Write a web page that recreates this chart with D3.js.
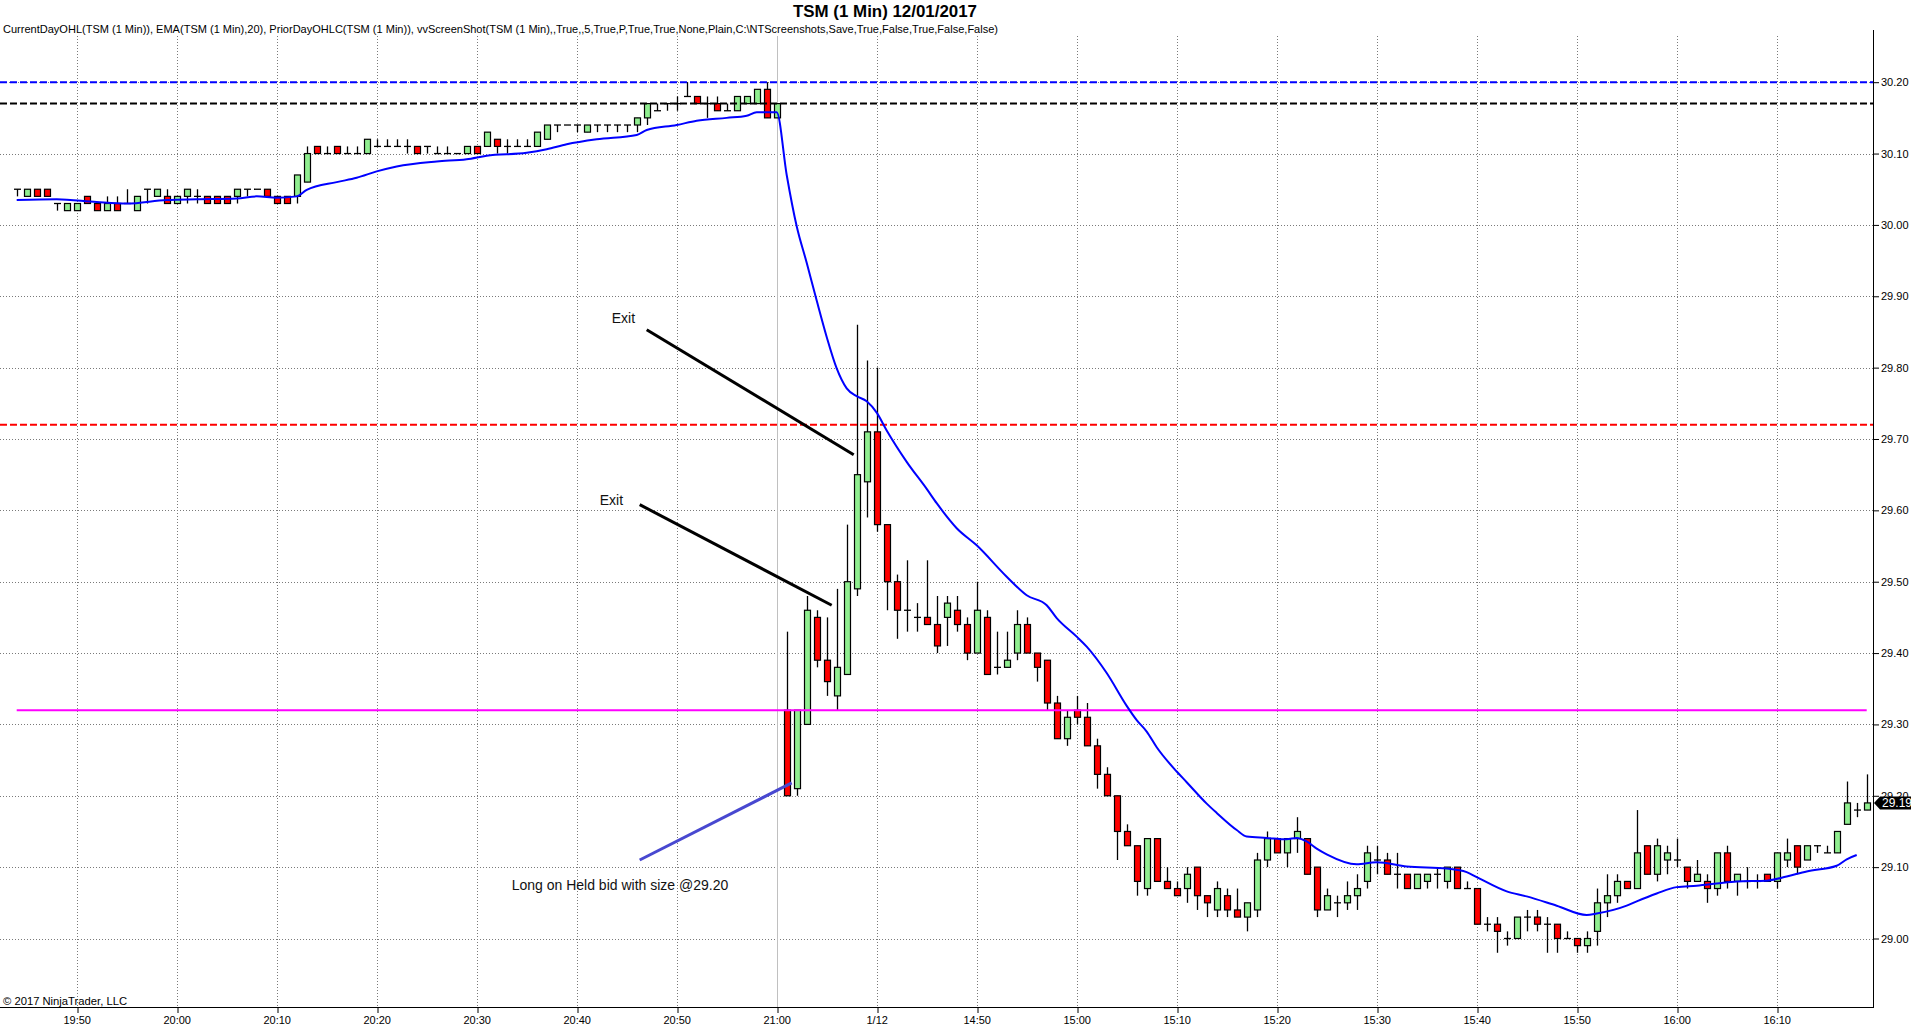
<!DOCTYPE html>
<html>
<head>
<meta charset="utf-8">
<script src="https://cdn.jsdelivr.net/npm/d3@7"></script>
<style>
  html, body { margin: 0; padding: 0; background: #fff; }
  svg { display: block; font-family: "Liberation Sans", Arial, sans-serif; }
</style>
</head>
<body>
<div id="chart"></div>
<script>
// TSM 1 minute bars, prior session 19:44-21:00 then 1/12 session from 14:31
const opens = [
  30.05, 30.04, 30.05, 30.05, 30.03, 30.02, 30.02, 30.04, 30.03, 30.02,
  30.03, 30.03, 30.02, 30.05, 30.04, 30.04, 30.03, 30.04, 30.04, 30.04,
  30.04, 30.04, 30.04, 30.05, 30.05, 30.05, 30.04, 30.04, 30.04, 30.06,
  30.11, 30.10, 30.11, 30.10, 30.10, 30.10, 30.11, 30.11, 30.11, 30.11,
  30.11, 30.11, 30.10, 30.10, 30.10, 30.10, 30.11, 30.11, 30.12, 30.11,
  30.11, 30.11, 30.11, 30.12, 30.14, 30.14, 30.14, 30.13, 30.14, 30.14,
  30.14, 30.14, 30.14, 30.15, 30.16, 30.17, 30.17, 30.18, 30.18, 30.17,
  30.17, 30.16, 30.16, 30.17, 30.17, 30.19, 30.15,
  29.32, 29.21, 29.30,
  29.45, 29.39, 29.34, 29.37, 29.49, 29.64, 29.71, 29.58, 29.50, 29.46,
  29.45, 29.45, 29.44, 29.45, 29.46, 29.44, 29.40, 29.45, 29.38, 29.38,
  29.40, 29.44, 29.40, 29.39, 29.33, 29.28, 29.32, 29.31, 29.27, 29.23,
  29.20, 29.15, 29.13, 29.07, 29.14, 29.08, 29.07, 29.07, 29.10, 29.06,
  29.04, 29.06, 29.04, 29.03, 29.04, 29.11, 29.14, 29.12, 29.14, 29.14,
  29.10, 29.04, 29.05, 29.05, 29.06, 29.08, 29.11, 29.11, 29.09, 29.09,
  29.07, 29.08, 29.09, 29.08, 29.10, 29.07, 29.07, 29.02, 29.02, 29.00,
  29.00, 29.03, 29.03, 29.02, 29.02, 29.00, 29.00, 28.99, 29.01, 29.05,
  29.06, 29.08, 29.07, 29.13, 29.09, 29.11, 29.11, 29.10, 29.08, 29.08,
  29.07, 29.12, 29.08, 29.08, 29.08, 29.09, 29.08, 29.11, 29.13, 29.11,
  29.13, 29.12, 29.12, 29.16, 29.18, 29.18
];
const highs = [
  30.05, 30.05, 30.05, 30.05, 30.03, 30.03, 30.03, 30.04, 30.03, 30.04,
  30.04, 30.05, 30.04, 30.05, 30.05, 30.05, 30.04, 30.05, 30.05, 30.04,
  30.04, 30.04, 30.05, 30.05, 30.05, 30.05, 30.04, 30.04, 30.07, 30.11,
  30.11, 30.11, 30.11, 30.11, 30.11, 30.12, 30.12, 30.12, 30.12, 30.12,
  30.11, 30.11, 30.11, 30.11, 30.10, 30.11, 30.11, 30.13, 30.12, 30.12,
  30.12, 30.12, 30.13, 30.14, 30.14, 30.14, 30.14, 30.14, 30.14, 30.14,
  30.14, 30.14, 30.15, 30.17, 30.17, 30.17, 30.18, 30.20, 30.18, 30.18,
  30.18, 30.17, 30.18, 30.18, 30.19, 30.20, 30.17,
  29.43, 29.32, 29.48,
  29.46, 29.45, 29.49, 29.58, 29.86, 29.81, 29.80, 29.58, 29.51, 29.53,
  29.47, 29.53, 29.48, 29.48, 29.48, 29.45, 29.50, 29.46, 29.43, 29.43,
  29.46, 29.45, 29.40, 29.39, 29.34, 29.32, 29.34, 29.33, 29.28, 29.24,
  29.20, 29.16, 29.13, 29.14, 29.14, 29.10, 29.08, 29.10, 29.10, 29.06,
  29.08, 29.07, 29.07, 29.05, 29.12, 29.15, 29.14, 29.14, 29.17, 29.14,
  29.10, 29.07, 29.06, 29.08, 29.09, 29.13, 29.13, 29.12, 29.12, 29.09,
  29.09, 29.09, 29.10, 29.10, 29.10, 29.08, 29.07, 29.03, 29.03, 29.01,
  29.03, 29.04, 29.04, 29.03, 29.02, 29.01, 29.00, 29.01, 29.07, 29.09,
  29.09, 29.08, 29.18, 29.13, 29.14, 29.13, 29.14, 29.10, 29.11, 29.09,
  29.12, 29.13, 29.09, 29.10, 29.09, 29.09, 29.12, 29.14, 29.13, 29.13,
  29.13, 29.13, 29.15, 29.22, 29.19, 29.23
];
const lows = [
  30.04, 30.04, 30.04, 30.04, 30.02, 30.02, 30.02, 30.03, 30.02, 30.02,
  30.02, 30.03, 30.02, 30.03, 30.04, 30.03, 30.03, 30.03, 30.03, 30.03,
  30.03, 30.03, 30.03, 30.04, 30.05, 30.04, 30.03, 30.03, 30.03, 30.06,
  30.10, 30.10, 30.10, 30.10, 30.10, 30.10, 30.11, 30.11, 30.11, 30.10,
  30.10, 30.10, 30.10, 30.10, 30.10, 30.10, 30.10, 30.11, 30.10, 30.10,
  30.11, 30.11, 30.11, 30.12, 30.13, 30.14, 30.13, 30.13, 30.13, 30.13,
  30.13, 30.13, 30.13, 30.14, 30.16, 30.16, 30.16, 30.18, 30.17, 30.15,
  30.16, 30.16, 30.16, 30.17, 30.17, 30.15, 30.15,
  29.20, 29.20, 29.30,
  29.38, 29.34, 29.32, 29.37, 29.48, 29.59, 29.57, 29.46, 29.42, 29.43,
  29.43, 29.44, 29.40, 29.41, 29.43, 29.39, 29.40, 29.37, 29.37, 29.38,
  29.39, 29.40, 29.36, 29.32, 29.28, 29.27, 29.30, 29.27, 29.21, 29.20,
  29.11, 29.13, 29.06, 29.06, 29.08, 29.07, 29.06, 29.05, 29.04, 29.03,
  29.03, 29.03, 29.03, 29.01, 29.03, 29.10, 29.12, 29.10, 29.12, 29.09,
  29.03, 29.04, 29.03, 29.04, 29.04, 29.07, 29.09, 29.09, 29.07, 29.07,
  29.07, 29.07, 29.07, 29.07, 29.07, 29.07, 29.02, 29.01, 28.98, 28.99,
  29.00, 29.01, 29.01, 28.98, 28.98, 29.00, 28.98, 28.98, 28.99, 29.03,
  29.05, 29.07, 29.07, 29.09, 29.08, 29.09, 29.10, 29.07, 29.08, 29.05,
  29.06, 29.07, 29.06, 29.07, 29.07, 29.08, 29.07, 29.10, 29.09, 29.11,
  29.12, 29.12, 29.12, 29.16, 29.17, 29.18
];
const closes = [
  30.05, 30.05, 30.04, 30.04, 30.03, 30.03, 30.03, 30.03, 30.02, 30.03,
  30.02, 30.03, 30.04, 30.05, 30.05, 30.03, 30.04, 30.05, 30.04, 30.03,
  30.03, 30.03, 30.05, 30.05, 30.05, 30.04, 30.03, 30.03, 30.07, 30.10,
  30.10, 30.10, 30.10, 30.10, 30.10, 30.12, 30.11, 30.11, 30.11, 30.11,
  30.10, 30.11, 30.10, 30.10, 30.10, 30.11, 30.10, 30.13, 30.11, 30.11,
  30.11, 30.11, 30.13, 30.14, 30.14, 30.14, 30.14, 30.14, 30.14, 30.14,
  30.14, 30.14, 30.15, 30.17, 30.16, 30.17, 30.17, 30.18, 30.17, 30.17,
  30.16, 30.16, 30.18, 30.18, 30.19, 30.15, 30.17,
  29.20, 29.32, 29.46,
  29.39, 29.36, 29.38, 29.50, 29.65, 29.71, 29.58, 29.50, 29.46, 29.46,
  29.45, 29.44, 29.41, 29.47, 29.44, 29.40, 29.46, 29.37, 29.38, 29.39,
  29.44, 29.40, 29.38, 29.33, 29.28, 29.31, 29.31, 29.27, 29.23, 29.20,
  29.15, 29.13, 29.08, 29.14, 29.08, 29.07, 29.06, 29.09, 29.06, 29.05,
  29.07, 29.04, 29.03, 29.05, 29.11, 29.14, 29.12, 29.14, 29.15, 29.09,
  29.04, 29.06, 29.05, 29.06, 29.07, 29.12, 29.11, 29.09, 29.09, 29.07,
  29.09, 29.09, 29.09, 29.10, 29.07, 29.07, 29.02, 29.02, 29.01, 29.00,
  29.03, 29.03, 29.02, 29.02, 29.00, 29.00, 28.99, 29.00, 29.05, 29.06,
  29.08, 29.07, 29.12, 29.09, 29.13, 29.12, 29.11, 29.08, 29.09, 29.07,
  29.12, 29.08, 29.09, 29.08, 29.08, 29.08, 29.12, 29.12, 29.10, 29.13,
  29.13, 29.12, 29.15, 29.19, 29.18, 29.19
];

// EMA(20): bar index and value
const emaIdx = [0, 4, 8, 11, 15, 18, 22, 24, 26, 28, 29, 32, 34, 36, 38, 42, 45, 47, 51, 53,
  55, 58, 62, 63, 66, 68, 71, 73, 74, 76, 77, 78, 79, 80, 81, 82, 83, 84, 85, 86,
  87, 89, 91, 92, 94, 96, 99, 101, 103, 104, 106, 107, 109, 111, 112, 113, 114, 116, 117, 119,
  120, 122, 123, 125, 127, 128, 129, 130, 131, 134, 136, 139, 143, 145, 146, 149, 151, 154, 157, 158,
  161, 162, 164, 166, 168, 170, 172, 175, 177, 179, 182, 183, 184];
const emaVal = [30.035, 30.036, 30.032, 30.030, 30.035, 30.036, 30.037, 30.040, 30.038, 30.040,
  30.049, 30.060, 30.066, 30.075, 30.082, 30.089, 30.092, 30.097, 30.101, 30.106,
  30.113, 30.120, 30.126, 30.133, 30.140, 30.146, 30.150, 30.153, 30.158, 30.158,
  30.070, 29.998, 29.947, 29.894, 29.843, 29.799, 29.771, 29.760, 29.753, 29.737,
  29.712, 29.668, 29.630, 29.610, 29.575, 29.551, 29.507, 29.481, 29.467, 29.449,
  29.423, 29.409, 29.372, 29.326, 29.306, 29.290, 29.268, 29.234, 29.219, 29.189,
  29.176, 29.152, 29.143, 29.141, 29.139, 29.141, 29.136, 29.126, 29.118, 29.104,
  29.107, 29.101, 29.098, 29.093, 29.086, 29.066, 29.059, 29.046, 29.033, 29.035,
  29.046, 29.052, 29.063, 29.072, 29.074, 29.077, 29.080, 29.081, 29.087, 29.094,
  29.102, 29.111, 29.117];

// x axis labels and the bar index they sit on
const timeLabels = ["19:50", "20:00", "20:10", "20:20", "20:30", "20:40", "20:50", "21:00", "1/12",
  "14:50", "15:00", "15:10", "15:20", "15:30", "15:40", "15:50", "16:00", "16:10"];
const timeIdx = [6, 16, 26, 36, 46, 56, 66, 76, 86, 96, 106, 116, 126, 136, 146, 156, 166, 176];
const sessionBreakIdx = 76;

const priceTicks = [29.00, 29.10, 29.20, 29.30, 29.40, 29.50, 29.60, 29.70, 29.80, 29.90, 30.00, 30.10, 30.20];

// levels: prior day high, current day open, drawn levels
const priorHigh = 30.20;
const dayLevel = 30.17;
const exitLevel = 29.72;
const bidLevel = 29.32;

const titleText = "TSM (1 Min)  12/01/2017";
const indicatorText = "CurrentDayOHL(TSM (1 Min)), EMA(TSM (1 Min),20), PriorDayOHLC(TSM (1 Min)), vvScreenShot(TSM (1 Min),,True,,5,True,P,True,True,None,Plain,C:\\NTScreenshots,Save,True,False,True,False,False)";

const width = 1920, height = 1034;
const plotRight = 1873, plotTop = 36, plotBottom = 1007;

const svg = d3.select("#chart").append("svg")
  .attr("width", width).attr("height", height);

svg.append("rect").attr("width", width).attr("height", height).attr("fill", "#fff");

const x = d3.scaleLinear()
  .domain([0, opens.length - 1])
  .range([16.7, 1866.7]);

const y = d3.scaleLinear()
  .domain([29.00, 30.20])
  .range([938.5, 82.2]);

const px = v => Math.round(v) + 0.5;

// grid
const grid = svg.append("g");
grid.selectAll("line.h").data(priceTicks).enter().append("line")
  .attr("x1", 0).attr("x2", plotRight)
  .attr("y1", d => px(y(d))).attr("y2", d => px(y(d)))
  .attr("stroke", "#7a7a7a").attr("stroke-dasharray", "1,2");
grid.selectAll("line.v").data(timeIdx.filter(d => d !== sessionBreakIdx)).enter().append("line")
  .attr("x1", d => px(x(d))).attr("x2", d => px(x(d)))
  .attr("y1", plotTop).attr("y2", plotBottom)
  .attr("stroke", "#7a7a7a").attr("stroke-dasharray", "1,2");
grid.append("line")
  .attr("x1", px(x(sessionBreakIdx))).attr("x2", px(x(sessionBreakIdx)))
  .attr("y1", plotTop).attr("y2", plotBottom)
  .attr("stroke", "#c0c0c0");

// candles
const bars = d3.range(opens.length).map(i => ({
  i, o: opens[i], h: highs[i], l: lows[i], c: closes[i]
}));

const candles = svg.append("g");
candles.selectAll("line.wick").data(bars).enter().append("line")
  .attr("x1", d => px(x(d.i))).attr("x2", d => px(x(d.i)))
  .attr("y1", d => y(d.h)).attr("y2", d => y(d.l))
  .attr("stroke", "#000").attr("stroke-width", 1.3);

candles.selectAll("rect").data(bars.filter(d => d.o !== d.c)).enter().append("rect")
  .attr("x", d => Math.round(x(d.i)) - 2.5)
  .attr("width", 6)
  .attr("y", d => y(Math.max(d.o, d.c)))
  .attr("height", d => y(Math.min(d.o, d.c)) - y(Math.max(d.o, d.c)))
  .attr("fill", d => d.c > d.o ? "#90ee90" : "#ff0000")
  .attr("stroke", "#000").attr("stroke-width", 1.2);

candles.selectAll("line.doji").data(bars.filter(d => d.o === d.c)).enter().append("line")
  .attr("x1", d => Math.round(x(d.i)) - 3).attr("x2", d => Math.round(x(d.i)) + 4)
  .attr("y1", d => y(d.o)).attr("y2", d => y(d.o))
  .attr("stroke", "#000").attr("stroke-width", 1.3);

// level lines
const levels = svg.append("g");
[[priorHigh, "#0000ff"], [dayLevel, "#000000"], [exitLevel, "#ff0000"]].forEach(([v, col]) => {
  levels.append("line")
    .attr("x1", 0).attr("x2", plotRight)
    .attr("y1", y(v)).attr("y2", y(v))
    .attr("stroke", col).attr("stroke-width", 2).attr("stroke-dasharray", "7,3");
});
levels.append("line")
  .attr("x1", x(0)).attr("x2", x(opens.length - 1))
  .attr("y1", y(bidLevel)).attr("y2", y(bidLevel))
  .attr("stroke", "#ff00ff").attr("stroke-width", 2);

// EMA
const emaPts = emaIdx.map((d, k) => [d, emaVal[k]]);
svg.append("path")
  .datum(emaPts)
  .attr("fill", "none")
  .attr("stroke", "#0000ff")
  .attr("stroke-width", 2)
  .attr("d", d3.line().x(d => x(d[0])).y(d => y(d[1])).curve(d3.curveMonotoneX));

// annotations (bar index, price)
const notes = svg.append("g");
const segs = [
  { a: [63.0, 29.853], b: [83.7, 29.678], col: "#000" },
  { a: [62.3, 29.608], b: [81.5, 29.467], col: "#000" },
  { a: [62.3, 29.110], b: [77.5, 29.218], col: "#4848d0" }
];
notes.selectAll("line").data(segs).enter().append("line")
  .attr("x1", d => x(d.a[0])).attr("y1", d => y(d.a[1]))
  .attr("x2", d => x(d.b[0])).attr("y2", d => y(d.b[1]))
  .attr("stroke", d => d.col).attr("stroke-width", 3);

const labels = [
  { t: "Exit", at: [59.5, 29.862] },
  { t: "Exit", at: [58.3, 29.608] },
  { t: "Long on Held bid with size @29.20", at: [49.5, 29.068] }
];
notes.selectAll("text").data(labels).enter().append("text")
  .attr("x", d => x(d.at[0])).attr("y", d => y(d.at[1]))
  .attr("font-size", 14).attr("fill", "#111")
  .text(d => d.t);

// right price axis
const yAxis = svg.append("g")
  .attr("transform", `translate(${plotRight},0)`)
  .call(d3.axisRight(y).tickValues(priceTicks).tickSize(6).tickPadding(2).tickFormat(d3.format(".2f")));
yAxis.select(".domain").remove();
yAxis.selectAll("text").attr("font-size", 11).attr("font-family", "Liberation Sans, Arial, sans-serif").attr("fill", "#000");
svg.append("line")
  .attr("x1", plotRight + 0.5).attr("x2", plotRight + 0.5)
  .attr("y1", 30).attr("y2", plotBottom)
  .attr("stroke", "#000");

// bottom time axis
const xAxis = svg.append("g")
  .attr("transform", `translate(0,${plotBottom})`)
  .call(d3.axisBottom(x).tickValues(timeIdx).tickSize(6).tickPadding(3)
    .tickFormat((d, k) => timeLabels[k]));
xAxis.select(".domain").remove();
xAxis.selectAll("text").attr("font-size", 11).attr("font-family", "Liberation Sans, Arial, sans-serif").attr("fill", "#000");
xAxis.selectAll(".tick line").attr("transform", d => `translate(${px(x(d)) - x(d)},0)`);
svg.append("line")
  .attr("x1", 0).attr("x2", plotRight + 1)
  .attr("y1", plotBottom + 0.5).attr("y2", plotBottom + 0.5)
  .attr("stroke", "#000");

// last price marker
const last = closes[closes.length - 1];
const ly = y(last);
svg.append("path")
  .attr("d", `M${plotRight + 1},${ly} L${plotRight + 7},${ly - 6.5} L1911,${ly - 6.5} L1911,${ly + 6.5} L${plotRight + 7},${ly + 6.5} Z`)
  .attr("fill", "#000");
svg.append("text")
  .attr("x", plotRight + 9).attr("y", ly + 4.5)
  .attr("font-size", 12).attr("fill", "#fff")
  .text(d3.format(".2f")(last));

// titles
svg.append("text")
  .attr("x", 793).attr("y", 17)
  .attr("font-size", 16).attr("font-weight", "bold")
  .attr("textLength", 184).attr("lengthAdjust", "spacingAndGlyphs")
  .text(titleText);
svg.append("text")
  .attr("x", 3).attr("y", 33)
  .attr("font-size", 11)
  .attr("textLength", 995).attr("lengthAdjust", "spacingAndGlyphs")
  .text(indicatorText);
svg.append("text")
  .attr("x", 3).attr("y", 1005)
  .attr("font-size", 11)
  .attr("textLength", 124).attr("lengthAdjust", "spacingAndGlyphs")
  .text("\u00a9 2017 NinjaTrader, LLC");
</script>
</body>
</html>
